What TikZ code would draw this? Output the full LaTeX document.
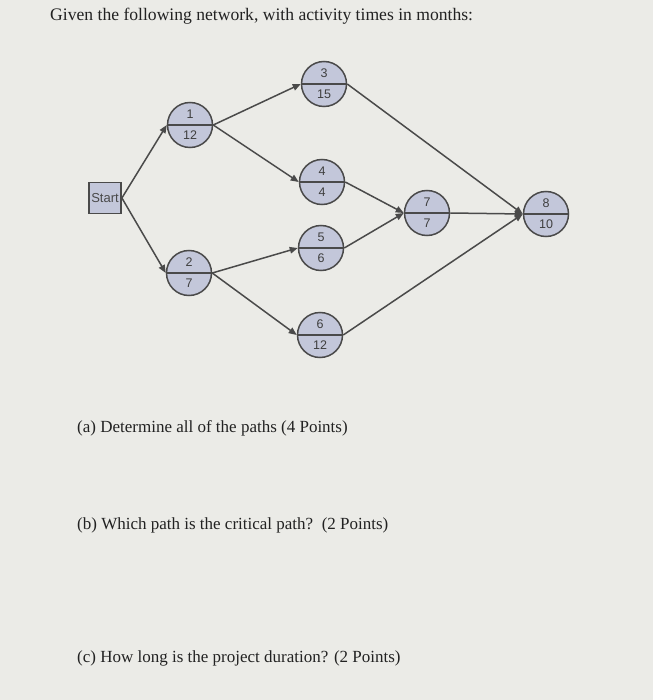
\documentclass[tikz,border=0pt]{standalone}
\usepackage{fontspec}
\setmainfont{Liberation Serif}
\newfontfamily\numfont{Liberation Sans}
\usetikzlibrary{positioning,arrows.meta,calc}
\definecolor{paper}{HTML}{EBEBE7}
\definecolor{nodefill}{HTML}{C3C7DA}
\definecolor{edge}{HTML}{4A4A4A}
\definecolor{ink}{HTML}{222222}
\tikzset{
  activity/.style 2 args={circle, draw=edge, line width=1.5pt, fill=nodefill,
    minimum size=45pt, inner sep=0pt,
    path picture={
      \draw[edge, line width=1.8pt] (path picture bounding box.west) -- (path picture bounding box.east);
      \node[text=edge!85!black, font=\numfont\fontsize{12.5}{14}\selectfont] at ($(path picture bounding box.center)+(0,-11)$) {#1};
      \node[text=edge!85!black, font=\numfont\fontsize{12.5}{14}\selectfont] at ($(path picture bounding box.center)+(0,10)$) {#2};
    }},
  startbox/.style={rectangle, draw=edge, line width=1.8pt, fill=nodefill,
    minimum width=32pt, minimum height=31pt, inner sep=0pt,
    text=edge, font=\numfont\fontsize{13}{15}\selectfont},
  link/.style={draw=edge, line width=1.5pt, -{Triangle[length=8pt,width=6.5pt]}},
  question/.style={anchor=base west, inner sep=0pt, text=ink, font=\fontsize{17}{20}\selectfont}
}
\begin{document}
\begin{tikzpicture}[x=1pt, y=-1pt]
    \fill[paper] (0,0) rectangle (653,700);
    \useasboundingbox (0,0) rectangle (653,700);

    \node[question, font=\fontsize{17.6}{21}\selectfont] (title) at (50,21) {Given the following network, with activity times in months:};

    \node[startbox] (start) at (105,198) {Start};
    \node[activity={1}{12}] (a1) at (190,125) {};
    \node[activity={2}{7}]  (a2) at (189,273) {};
    \node[activity={3}{15}] (a3) at (324,84)  {};
    \node[activity={4}{4}]  (a4) at (322,182) {};
    \node[activity={5}{6}]  (a5) at (321,248) {};
    \node[activity={6}{12}] (a6) at (320,335) {};
    \node[activity={7}{7}]  (a7) at (427,213) {};
    \node[activity={8}{10}] (a8) at (546,214) {};

    \draw[link] (start.east) -- (a1.west);
    \draw[link] (start.east) -- (a2.west);
    \draw[link] (a1.east) -- (a3.west);
    \draw[link] (a1.east) -- (a4.west);
    \draw[link] (a2.east) -- (a5.west);
    \draw[link] (a2.east) -- (a6.west);
    \draw[link] (a3.east) -- (a8.west);
    \draw[link] (a4.east) -- (a7.west);
    \draw[link] (a5.east) -- (a7.west);
    \draw[link] (a7.east) -- (a8.west);
    \draw[link] (a6.east) -- (a8.west);

    \node[question] (qa) at (77,432) {(a) Determine all of the paths (4 Points)};
    \node[question] (qb) at (77,529) {(b) Which path is the critical path?\ \ (2 Points)};
    \node[question] (qc) at (77,662) {(c) How long is the project duration? (2 Points)};

  \end{tikzpicture}
\end{document}
